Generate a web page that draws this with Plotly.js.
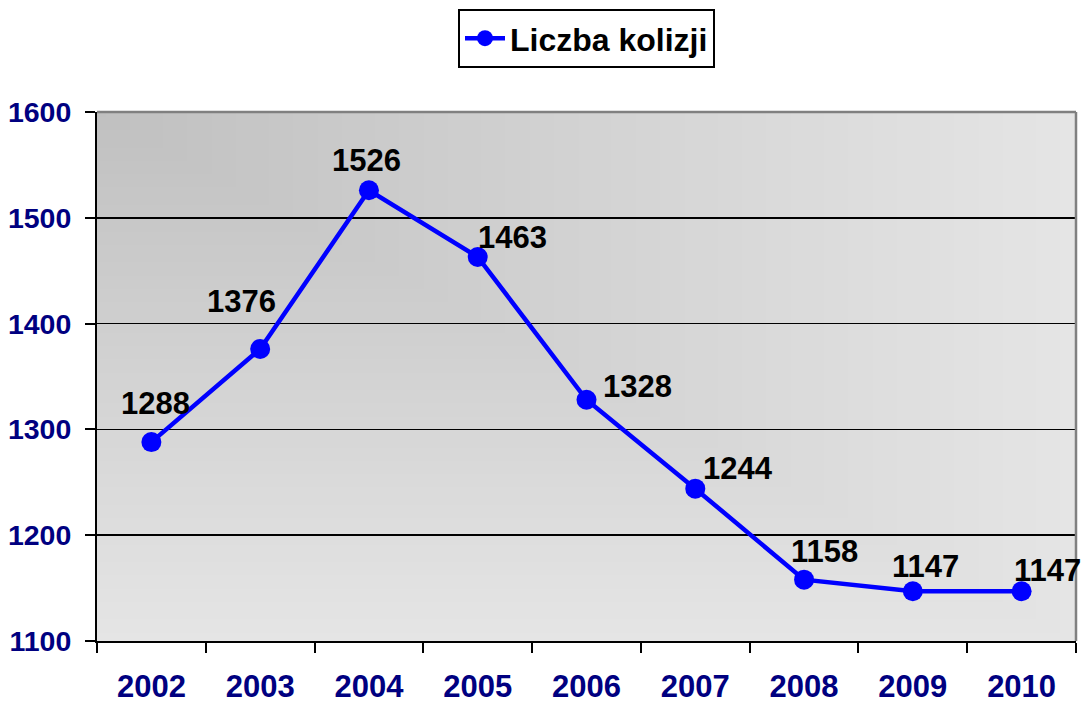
<!DOCTYPE html>
<html>
<head>
<meta charset="utf-8">
<script src="https://cdn.plot.ly/plotly-3.0.1.min.js"></script>
<style>html,body{margin:0;padding:0;background:#fff}#chart{width:1085px;height:704px}</style>
</head>
<body>
<div id="chart"></div>
<script>
// ---- data ----
const years = ['2002','2003','2004','2005','2006','2007','2008','2009','2010'];
const collisions = [1288, 1376, 1526, 1463, 1328, 1244, 1158, 1147, 1147];
const seriesName = 'Liczba kolizji';
const yTicks = [1100, 1200, 1300, 1400, 1500, 1600];

// ---- label placement (pixel offsets from each point) ----
const labelDx = [4, -19, -2, 35, 51, 43, 20, 13, 26];
const labelDy = [39, 47, 30, 19, 13, 20, 28, 25, 21];

// ---- "from corner" gradient background ----
function cornerGradient(w, h) {
  const c = document.createElement('canvas');
  c.width = w; c.height = h;
  const ctx = c.getContext('2d');
  const c0 = 192, c1 = 229, steps = 120;
  for (let i = steps; i >= 1; i--) {
    const t = i / steps;
    const v = Math.round(c0 + (c1 - c0) * t);
    ctx.fillStyle = 'rgb(' + v + ',' + v + ',' + v + ')';
    ctx.fillRect(0, 0, Math.ceil(w * t), Math.ceil(h * t));
  }
  return c.toDataURL('image/png');
}

const L = 97, R = 9, T = 112, B = 63;
const W = 1085, H = 704;
const bg = cornerGradient(W - L - R, H - T - B);

const fontFam = '"Liberation Sans", Arial, sans-serif';

const trace = {
  type: 'scatter',
  mode: 'lines+markers',
  x: years,
  y: collisions,
  name: seriesName,
  line: {color: '#0000ff', width: 4.5},
  marker: {color: '#0000ff', size: 20, symbol: 'circle'},
  cliponaxis: false,
  hoverinfo: 'x+y'
};

const annotations = years.map((yr, i) => ({
  x: i, y: collisions[i], xref: 'x', yref: 'y',
  text: String(collisions[i]),
  showarrow: false,
  xanchor: 'center', yanchor: 'middle',
  xshift: labelDx[i], yshift: labelDy[i],
  font: {family: fontFam, size: 31, color: '#000000', weight: 'bold'}
}));

const layout = {
  width: W, height: H,
  margin: {l: L, r: R, t: T, b: B, pad: 0},
  paper_bgcolor: '#ffffff',
  plot_bgcolor: 'rgba(0,0,0,0)',
  showlegend: true,
  legend: {
    x: 0.5, xanchor: 'center', y: 1.195, yanchor: 'top',
    orientation: 'h',
    itemwidth: 40,
    bgcolor: '#ffffff', bordercolor: '#000000', borderwidth: 2,
    font: {family: fontFam, size: 32, color: '#000000', weight: 'bold'}
  },
  xaxis: {
    type: 'category',
    range: [-0.5, 8.5],
    tickson: 'boundaries',
    ticks: 'outside', ticklen: 10, tickwidth: 2, tickcolor: '#000000',
    showline: true, linecolor: '#000000', linewidth: 2,
    showgrid: false, zeroline: false,
    ticklabelstandoff: 17,
    tickfont: {family: fontFam, size: 31, color: '#000080', weight: 'bold'},
    fixedrange: true
  },
  yaxis: {
    range: [1100, 1600],
    tickvals: yTicks,
    ticks: 'outside', ticklen: 10, tickwidth: 2, tickcolor: '#000000',
    showline: true, linecolor: '#000000', linewidth: 2,
    showgrid: true, gridcolor: '#000000', gridwidth: 1.5,
    zeroline: false,
    ticklabelstandoff: 8,
    tickfont: {family: fontFam, size: 28.5, color: '#000080', weight: 'bold'},
    fixedrange: true
  },
  images: [{
    source: bg, xref: 'paper', yref: 'paper',
    x: 0, y: 1, sizex: 1, sizey: 1,
    xanchor: 'left', yanchor: 'top',
    sizing: 'stretch', layer: 'below'
  }],
  shapes: [
    {type: 'line', xref: 'paper', yref: 'paper', x0: 0, x1: 1, y0: 1, y1: 1,
     line: {color: '#808080', width: 2.5}},
    {type: 'line', xref: 'paper', yref: 'paper', x0: 1, x1: 1, y0: 0, y1: 1,
     line: {color: '#808080', width: 2.5}}
  ],
  annotations: annotations
};

Plotly.newPlot('chart', [trace], layout, {displayModeBar: false, staticPlot: true});
</script>
</body>
</html>
